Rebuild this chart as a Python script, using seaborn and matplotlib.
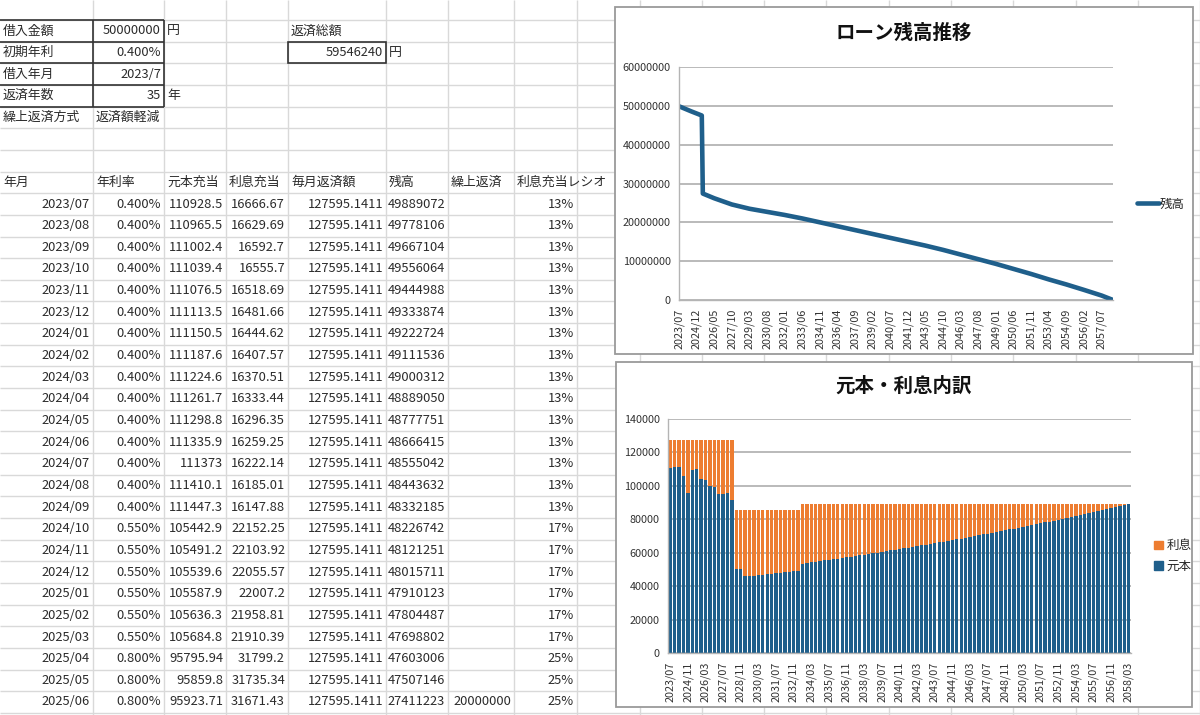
import numpy as np
import matplotlib
matplotlib.use("Agg")
import matplotlib.pyplot as plt
import seaborn as sns
from matplotlib.patches import Rectangle, Patch
from matplotlib.lines import Line2D
from matplotlib.ticker import FuncFormatter

sns.set_theme(style="white")
plt.rcParams['font.family'] = ['Noto Sans CJK JP', 'DejaVu Sans']

# ---- sheet: inputs ----
input_labels = ["借入金額", "初期年利", "借入年月", "返済年数"]
input_values = ["50000000", "0.400%", "2023/7", "35"]
input_units = ["円", "", "", "年"]
prepay_mode_label = "繰上返済方式"
prepay_mode = "返済額軽減"
total_label = "返済総額"
total_value = "59546240"

# ---- sheet: schedule ----
headers = ["年月", "年利率", "元本充当", "利息充当", "毎月返済額", "残高", "繰上返済", "利息充当レシオ"]
months = ["2023/07", "2023/08", "2023/09", "2023/10", "2023/11", "2023/12",
          "2024/01", "2024/02", "2024/03", "2024/04", "2024/05", "2024/06",
          "2024/07", "2024/08", "2024/09", "2024/10", "2024/11", "2024/12",
          "2025/01", "2025/02", "2025/03", "2025/04", "2025/05", "2025/06"]
rates = ["0.400%"] * 15 + ["0.550%"] * 6 + ["0.800%"] * 3
principal = ["110928.5", "110965.5", "111002.4", "111039.4", "111076.5", "111113.5",
             "111150.5", "111187.6", "111224.6", "111261.7", "111298.8", "111335.9",
             "111373", "111410.1", "111447.3", "105442.9", "105491.2", "105539.6",
             "105587.9", "105636.3", "105684.8", "95795.94", "95859.8", "95923.71"]
interest = ["16666.67", "16629.69", "16592.7", "16555.7", "16518.69", "16481.66",
            "16444.62", "16407.57", "16370.51", "16333.44", "16296.35", "16259.25",
            "16222.14", "16185.01", "16147.88", "22152.25", "22103.92", "22055.57",
            "22007.2", "21958.81", "21910.39", "31799.2", "31735.34", "31671.43"]
payment = ["127595.1411"] * 24
balance = ["49889072", "49778106", "49667104", "49556064", "49444988", "49333874",
           "49222724", "49111536", "49000312", "48889050", "48777751", "48666415",
           "48555042", "48443632", "48332185", "48226742", "48121251", "48015711",
           "47910123", "47804487", "47698802", "47603006", "47507146", "27411223"]
prepay = [""] * 23 + ["20000000"]
ratio = ["13%"] * 15 + ["17%"] * 6 + ["25%"] * 3

# ---- chart 1: balance ----
bal_months = ["2023/07", "2024/07", "2025/05", "2025/06", "2026/05", "2027/10", "2029/03",
              "2030/08", "2032/01", "2033/06", "2034/11", "2036/04", "2037/09", "2039/02",
              "2040/07", "2041/12", "2043/05", "2044/10", "2046/03", "2047/08", "2049/01",
              "2050/06", "2051/11", "2053/04", "2054/09", "2056/02", "2057/07", "2058/06"]
bal_values = [49889072, 48555042, 47507146, 27411223, 26200000, 24600000, 23500000,
              22700000, 21900000, 21000000, 20000000, 19000000, 18000000, 17000000,
              16000000, 15000000, 14000000, 12900000, 11700000, 10500000, 9300000,
              8000000, 6700000, 5300000, 4000000, 2600000, 1150000, 0]
bal_ticks = ["2023/07", "2024/12", "2026/05", "2027/10", "2029/03", "2030/08", "2032/01",
             "2033/06", "2034/11", "2036/04", "2037/09", "2039/02", "2040/07", "2041/12",
             "2043/05", "2044/10", "2046/03", "2047/08", "2049/01", "2050/06", "2051/11",
             "2053/04", "2054/09", "2056/02", "2057/07"]

# ---- chart 2: principal / interest (one bar per 4 months) ----
bar_total = [127595] * 15 + [85500] * 15 + [89100] * 75
bar_principal = [110900, 111100, 111400, 105800, 96000, 109400, 109800, 104400, 103800,
                 99800, 99400, 95000, 95400, 96000, 91400,
                 50000, 50200, 45800, 46000, 46200, 46400, 46700, 47000, 47300,
                 47600, 47900, 48200, 48500, 48800, 49200,
                 53500, 53900, 54200, 54600, 55000, 55400, 55800, 56100, 56500, 56900,
                 57300, 57700, 58100, 58500, 58900, 59300, 59700, 60100, 60500, 61000,
                 61400, 61800, 62200, 62700, 63100, 63500, 64000, 64400, 64800, 65300,
                 65700, 66200, 66700, 67100, 67600, 68000, 68500, 69000, 69500, 69900,
                 70400, 70900, 71400, 71900, 72400, 72900, 73400, 73900, 74400, 74900,
                 75400, 75900, 76500, 77000, 77500, 78100, 78600, 79100, 79700, 80200,
                 80800, 81300, 81900, 82500, 83000, 83600, 84200, 84800, 85400, 85900,
                 86500, 87100, 87700, 88300, 88900]
bar_ticks = ["2023/07", "2024/11", "2026/03", "2027/07", "2028/11", "2030/03", "2031/07",
             "2032/11", "2034/03", "2035/07", "2036/11", "2038/03", "2039/07", "2040/11",
             "2042/03", "2043/07", "2044/11", "2046/03", "2047/07", "2048/11", "2050/03",
             "2051/07", "2052/11", "2054/03", "2055/07", "2056/11", "2058/03"]

BLUE = "#1f5f8b"
ORANGE = "#ed7d31"
GRID = "#b4b4b4"
TXT = "#2b2b2b"
W, H = 1200, 715


def month_index(s):
    y, m = map(int, s.split("/"))
    return (y - 2023) * 12 + m - 7


def px_box(x0, y0, x1, y1):
    return [x0 / W, 1 - y1 / H, (x1 - x0) / W, (y1 - y0) / H]


fig = plt.figure(figsize=(12, 7.15), dpi=100)

# spreadsheet layer in pixel coordinates
sheet = fig.add_axes([0, 0, 1, 1])
sheet.set_xlim(0, W)
sheet.set_ylim(H, 0)
sheet.axis("off")

col_edges = [0, 93, 164, 226, 288, 386, 448, 514, 577] + [639.5 + 62.3 * k for k in range(10)]
row_h = 21.65
row_top = [20 + row_h * (k - 1) for k in range(34)]  # row_top[r] = top of sheet row r+1

for x in col_edges[1:]:
    sheet.vlines(x, 0, H, color="#d9d9d9", lw=1, zorder=1)
for y in row_top[1:]:
    sheet.hlines(y, 0, W, color="#d9d9d9", lw=1, zorder=1)


def cell_text(row, col, s, align="left", **kw):
    yc = row_top[row] + row_h / 2
    if align == "left":
        x, ha = col_edges[col] + 3, "left"
    else:
        x, ha = col_edges[col + 1] - 3, "right"
    sheet.text(x, yc, s, ha=ha, va="center", fontsize=9.3, color=TXT, zorder=2, **kw)


# input block (sheet rows 2..5 -> index 1..4)
for i, (lab, val, unit) in enumerate(zip(input_labels, input_values, input_units)):
    r = 1 + i
    cell_text(r, 0, lab)
    cell_text(r, 1, val, align="right")
    if unit:
        cell_text(r, 2, unit)
cell_text(5, 0, prepay_mode_label)
cell_text(5, 1, prepay_mode)
cell_text(1, 4, total_label)
cell_text(2, 4, total_value, align="right")
cell_text(2, 5, "円")

# dark borders
for y in row_top[1:6]:
    sheet.hlines(y, 0, col_edges[2], color="#333333", lw=1.2, zorder=3)
for x in col_edges[1:3]:
    sheet.vlines(x, row_top[1], row_top[5], color="#333333", lw=1.2, zorder=3)
sheet.add_patch(Rectangle((col_edges[4], row_top[2]), col_edges[5] - col_edges[4], row_h,
                          fill=False, edgecolor="#333333", lw=1.2, zorder=3))

# schedule header and rows
for c, h in enumerate(headers):
    cell_text(8, c, h)
for i in range(len(months)):
    r = 9 + i
    row_vals = [months[i], rates[i], principal[i], interest[i], payment[i],
                balance[i], prepay[i], ratio[i]]
    for c, v in enumerate(row_vals):
        if v:
            cell_text(r, c, v, align="right")

# chart frames
sheet.add_patch(Rectangle((615, 7), 578, 347, facecolor="white", edgecolor="#9a9a9a", lw=1.3, zorder=5))
sheet.add_patch(Rectangle((616, 362), 576, 345, facecolor="white", edgecolor="#9a9a9a", lw=1.3, zorder=5))


def style_axis(ax):
    sns.despine(ax=ax, top=True, right=True)
    for side in ("left", "bottom"):
        ax.spines[side].set_color(GRID)
        ax.spines[side].set_linewidth(1)
    ax.yaxis.grid(True, color=GRID, lw=1.3)
    ax.xaxis.grid(False)
    ax.set_axisbelow(True)
    ax.tick_params(axis="both", direction="out", length=4, width=1, color=GRID,
                   labelsize=7.8, labelcolor="#333333", pad=2)
    ax.tick_params(axis="x", labelrotation=90)
    ax.yaxis.set_major_formatter(FuncFormatter(lambda v, p: f"{v:.0f}"))
    ax.set_xlabel("")
    ax.set_ylabel("")
    ax.patch.set_alpha(0)


# chart 1
ax1 = fig.add_axes(px_box(679, 67, 1113, 300), zorder=10)
bal_x = [month_index(m) for m in bal_months]
sns.lineplot(x=bal_x, y=bal_values, ax=ax1, color=BLUE, linewidth=3.3)
ax1.set_xlim(0, 419)
ax1.set_ylim(0, 60000000)
ax1.set_yticks(np.arange(0, 60000001, 10000000))
ax1.set_xticks([month_index(m) for m in bal_ticks])
ax1.set_xticklabels(bal_ticks)
style_axis(ax1)
ax1.legend([Line2D([0], [0], color=BLUE, lw=3.3)], ["残高"], loc="center left",
           bbox_to_anchor=(1126 / W, 1 - 204 / H), bbox_transform=fig.transFigure,
           frameon=False, fontsize=9, handlelength=1.7, handletextpad=0.1)
fig.text((615 + 1193) / 2 / W, 1 - 33 / H, "ローン残高推移", ha="center", va="center",
         fontsize=14, fontweight="bold", color="#111111", zorder=11)

# chart 2
ax2 = fig.add_axes(px_box(668, 419, 1131, 653), zorder=10)
bar_x = np.arange(len(bar_total))
sns.barplot(x=bar_x, y=bar_total, ax=ax2, color=ORANGE, saturation=1, width=0.76)
sns.barplot(x=bar_x, y=bar_principal, ax=ax2, color=BLUE, saturation=1, width=0.76)
for p in ax2.patches:
    p.set_linewidth(0)
ax2.set_xlim(-0.5, len(bar_total) - 0.5)
ax2.set_ylim(0, 140000)
ax2.set_yticks(np.arange(0, 140001, 20000))
ax2.set_xticks(np.arange(0, len(bar_total), 4))
ax2.set_xticklabels(bar_ticks)
style_axis(ax2)
ax2.legend([Patch(color=ORANGE), Patch(color=BLUE)], ["利息", "元本"], loc="center left",
           bbox_to_anchor=(1143 / W, 1 - 556 / H), bbox_transform=fig.transFigure,
           frameon=False, fontsize=9, handlelength=0.7, handleheight=0.7,
           handletextpad=0.3, labelspacing=0.6)
fig.text((616 + 1192) / 2 / W, 1 - 386 / H, "元本・利息内訳", ha="center", va="center",
         fontsize=14, fontweight="bold", color="#111111", zorder=11)

fig.savefig("out.png", dpi=100)
